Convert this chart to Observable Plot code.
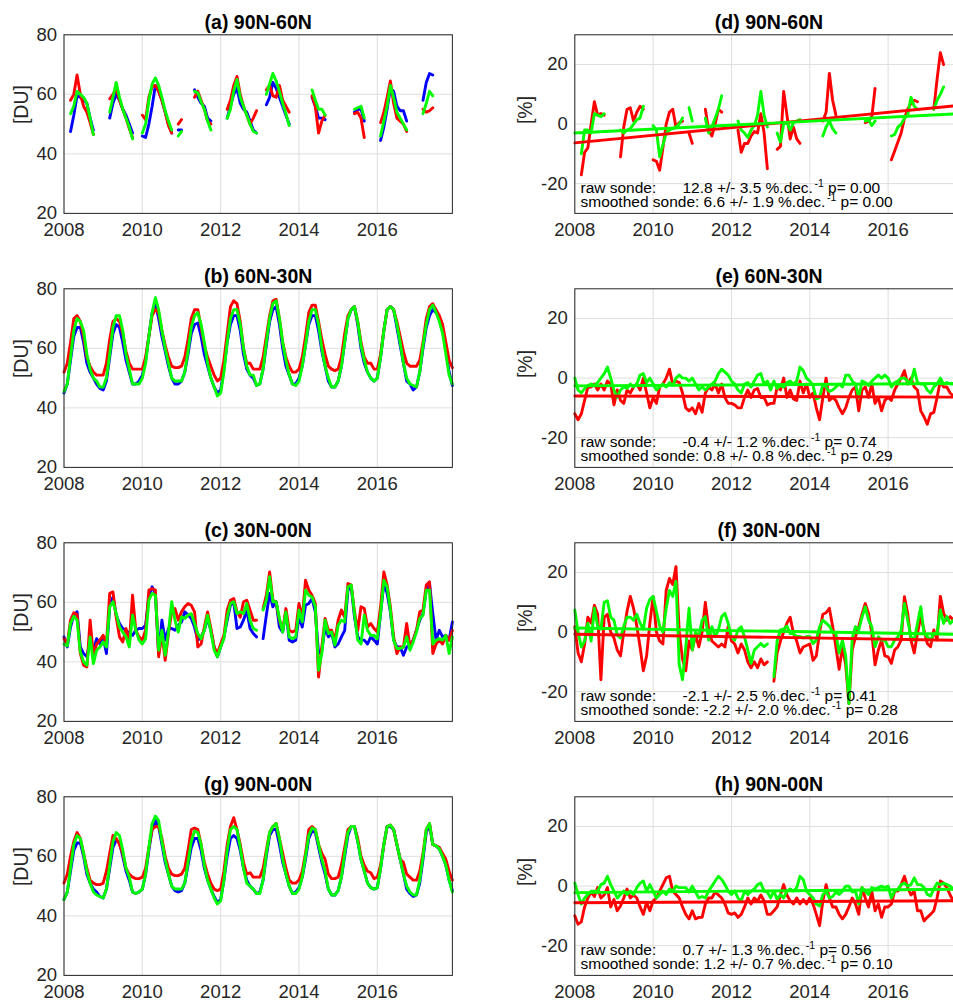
<!DOCTYPE html>
<html>
<head>
<meta charset="utf-8">
<script src="https://cdn.jsdelivr.net/npm/d3@7"></script>
<script src="https://cdn.jsdelivr.net/npm/@observablehq/plot@0.6"></script>
<style>
  body { margin: 0; background: #fff; }
  #fig { position: relative; width: 953px; height: 1001px; overflow: hidden; background: #fff; }
  #fig svg { position: absolute; }
</style>
</head>
<body>
<div id="fig"></div>
<script>
// Monthly ozone columns (DU) and relative differences (%), Jan 2008 – Dec 2017.
const _ = NaN; // month without data

const xTicks = [2008, 2010, 2012, 2014, 2016];
const duTicks = [20, 40, 60, 80];
const pctTicks = [-20, 0, 20];

// ---- (a) 90N-60N ----
const aBlue = [
  _, _, 47.5, 53, 59.5, 59, 58, 57, 52, 48, _, _,
  _, _, 52, 57, 60, 58, 55, 53, 50, 47, _, _,
  46, 45.5, 50, 56, 63, 61, 58, 54, 50, 47, _, 48,
  48, _, _, _, 61.5, 59, 57, 56, 52, 51, _, _,
  _, _, 52, 56, 60, 62, 57, 55, 54, 51, 48, 47,
  _, _, 56.5, 59, 64, 62, 59, 56, 53, 50, _, _,
  _, _, _, _, 59, 56, 52, 52, 51.5, _, _, _,
  _, _, _, _, _, 54, 55, 55, 51, _, _, _,
  _, 44.5, 49, 55, 62, 61, 56, 54.5, 54.5, 51, _, _,
  _, _, 58, 64, 67, 66.5, _, _, _, _, _, _];
const aRed = [
  _, _, 58, 60, 66.5, 60, 56, 54, 50.5, 46.5, _, _,
  _, _, 58.5, 60, 62, 58, 55, 52, 48.5, 45.5, _, _,
  53, 51.5, 59, 62.5, 63, 61, 58, 54, 49.5, 47, _, 50,
  51.5, _, _, _, 59, 61, 58, 55, 51, 50, _, _,
  _, _, 55, 58, 63, 66, 60, 56, 53, 50, 52, 54.5,
  _, _, 61.5, 63, 59.5, 59, 63, 58, 56, 54, _, _,
  _, _, _, _, 59.5, 56, 47, 51, 53, _, _, _,
  _, _, _, _, _, 53.5, 54, 52, 45.5, _, _, _,
  _, 50.5, 54, 59, 64.5, 57, 52, 51, 50, 47.5, _, _,
  _, _, 55, 54, 54.5, 55.5, _, _, _, _, _, _];
const aGreen = [
  _, _, 53.5, 56, 61, 60, 59, 57, 52, 46.5, _, _,
  _, _, 54, 59, 64, 59, 55, 52, 49, 45, _, _,
  47, 50, 58, 63.5, 65.5, 63, 59, 54.5, 51, 48, _, 46,
  47.5, _, _, _, 61, 60.5, 57.5, 55, 51, 48, _, _,
  _, _, 52, 55, 61, 65, 59, 56, 53, 50, 47.5, 47,
  _, _, 60, 63.5, 67, 64.5, 61, 57, 53.5, 49.5, _, _,
  _, _, _, _, 61.5, 58, 55, 55, 53, _, _, _,
  _, _, _, _, _, 55, 55.5, 56, 52, _, _, _,
  _, 46, 51, 56, 63, 59, 54, 52, 50, 48, _, _,
  _, _, 53.5, 57, 61, 59.5, _, _, _, _, _, _];

// ---- (b) 60N-30N ----
const bBlue = [
  45, 48, 56, 64, 67, 67, 62, 55, 52, 50, 48, 46.5,
  46, 49, 57, 65, 68, 67, 62, 56, 52, 48, 48, 49,
  51, 56, 64, 72, 75, 70, 64, 59, 54, 50, 48, 48,
  49, 52, 58, 65, 68, 68.5, 64, 58, 54, 50, 47, 45,
  46, 53, 62, 68, 71, 71, 66, 58, 53, 51, 50, 47.5,
  48, 53, 61, 69, 73, 74, 68, 60, 54, 51, 48, 48,
  50, 54, 61, 68, 71, 71, 66, 59, 54, 49, 47, 47,
  49, 54, 62, 70, 73, 74, 68, 60, 55, 52, 50, 49,
  50, 57, 66, 73, 74, 73, 67, 61, 55, 49, 48, 46,
  47, 52, 60, 67, 71, 73, 72, 70, 66, 60, 52, 47.5];
const bRed = [
  52, 55, 62, 70, 71, 69, 64, 57, 54, 52, 51, 51,
  51, 55, 63, 69, 70, 69, 65, 59, 55, 53, 53, 53,
  53, 57, 64, 71, 73, 72, 66, 61, 57, 54, 53.5, 53.5,
  54, 57, 63, 70, 73, 73, 67, 61, 57, 54, 51, 49,
  50, 56, 65, 74, 76, 75, 69, 60, 55, 55, 53, 53,
  53, 57, 64, 71, 76, 76.5, 70, 62, 57, 54, 52, 52,
  53, 57, 64, 72, 74.5, 74.5, 69, 63, 58, 54, 53, 52.5,
  53, 57, 65, 71, 73, 74, 69, 62, 57, 55, 55, 53,
  53, 58, 66, 73, 74, 73, 69, 64, 59, 55, 54, 54,
  54, 56, 62, 70, 74, 75, 73, 71, 68, 62, 56, 53.5];
const bGreen = [
  45.5, 48, 57, 66, 70, 69, 66, 58, 53, 50, 49, 47,
  47, 50, 58, 67, 71, 71, 66, 58, 53, 48, 48, 48,
  50, 55, 64, 72, 77, 73, 66, 60, 55, 50, 49, 49,
  49, 52, 59, 67, 71, 72, 68, 62, 55, 50, 47, 44,
  45, 52, 62, 70, 73, 73, 68, 60, 54, 51, 51, 47.5,
  48, 53, 62, 70, 75, 76, 70, 62, 56, 51, 48, 47.5,
  49, 54, 61, 69, 73, 73, 68, 60, 54, 50, 47, 47,
  49, 54, 62, 70, 73, 74, 69, 61, 56, 52, 50, 49,
  50, 57, 66, 73, 74, 73, 68, 62, 55, 50, 48, 47.5,
  47, 52, 61, 68, 73, 74.5, 72, 69, 65, 58, 51, 48];

// ---- (c) 30N-00N ----
const cBlue = [
  48.4, 45, 51.7, 55.7, 56.8, 45, 42.8, 41.7, 47.3, 43.9, 47.8, 46,
  48.4, 42.8, 58.5, 61.8, 55.7, 52.9, 51.2, 50.6, 49.5, 48.9, 50.6, 51.2,
  51.2, 52.3, 61.8, 65.2, 63, 42.8, 54, 47.3, 51.2, 51.2, 50.6, 52.3,
  53.4, 56.8, 55.7, 54.6, 51.7, 47.3, 48.4, 50.6, 54.6, 50.6, 45, 41.7,
  45, 48.4, 54, 59, 60.2, 51.2, 51.7, 54, 57.4, 51.2, 49.5, 48.4,
  _, 47.8, 55.7, 63, 58.5, 60.2, 51.7, 50, 56.8, 47.3, 46.7, 47.3,
  55.1, 51.7, 59, 59.6, 61.3, 56.8, 42.8, 43.9, 51.7, 48.4, 49.5, 45,
  46, 48.4, 50.6, 64.1, 65.2, 55.1, 48.4, 47.3, 47.3, 46, 48.4, 47.3,
  46, 56.2, 66.3, 63, 56.8, 47.3, 45, 45, 42.2, 45, 46, 47.3,
  50.6, 54, 56.2, 64.1, 66.3, 56.2, 47.3, 50.6, 48.4, 48.9, 47.3, 53.4];
const cRed = [
  47.8, 46, 54, 56.5, 56, 42.8, 38.9, 38.3, 54, 42.2, 46, 47.3,
  48.9, 46, 63, 63.5, 55, 48.4, 46.7, 51.2, 46, 62.4, 50.6, 48.4,
  47.3, 50.6, 64.1, 64.6, 64.1, 41.7, 49.5, 40.5, 49.5, 56.8, 57.9, 54,
  56.8, 58.5, 59.6, 59, 56.8, 45, 46, 51.7, 56.8, 51.2, 45, 42.8,
  46, 48.9, 57.4, 60.7, 61.3, 56.8, 55, 60.2, 60.7, 57.4, 54, 54,
  _, 57.9, 62.4, 70.2, 60.7, 60.2, 54, 50.6, 57.9, 50.6, 50, 50.6,
  59.6, 54.6, 67.4, 64.1, 62.4, 59.6, 34.9, 45, 54.6, 50.6, 50.6, 47.3,
  54, 57.4, 55, 66.3, 65.8, 56.8, 50.6, 58.5, 57.9, 51.7, 52.9, 51.2,
  50, 58.5, 70.2, 65.8, 58.5, 48.4, 42.8, 45, 45, 52.9, 45, 47.3,
  50.6, 56.8, 57.4, 65.8, 66.9, 42.8, 46, 47.3, 46, 48.9, 47.3, 50.6];
const cGreen = [
  46, 45.3, 52.9, 55.3, 54, 43.3, 40, 38.9, 48.4, 39.4, 43.9, 45,
  46.7, 45, 58.5, 60.2, 56.2, 51.7, 50, 48.4, 45, 55.7, 50.6, 47.3,
  46, 47.8, 60.7, 63, 62.4, 43.9, 50.6, 42.2, 50, 60.2, 54, 50,
  55.1, 54.6, 55.7, 56.2, 52.9, 49.5, 47.8, 50.6, 55.7, 50, 43.9, 41.7,
  45, 47.8, 55.1, 59.6, 60.2, 56.2, 56.8, 56.2, 59.6, 54, 51.2, 50.6,
  _, 57.4, 60.7, 68.6, 60.2, 60.2, 54.6, 50, 56.8, 48.4, 47.8, 48.4,
  57.4, 53.4, 64.1, 62.4, 61.8, 58.5, 37.2, 42.8, 54, 49.5, 50, 45.6,
  52.3, 54, 53.4, 65.2, 65.8, 56.2, 47.3, 46, 55.7, 50.6, 48.9, 48.9,
  47.8, 56.2, 67.4, 65.2, 57.4, 47.3, 44.5, 44.5, 45, 48.4, 43.9, 46.7,
  50, 54.6, 55.7, 64.1, 64.1, 46, 47.3, 47.8, 47.3, 48.9, 42.8, 48.4];

// ---- (g) 90N-00N ----
const gBlue = [
  45.5, 48, 55, 62, 64.5, 64.5, 60, 54, 51, 49, 48, 46.5,
  46, 49, 56, 63, 65.5, 64.5, 60, 55, 52, 48, 47.5, 48,
  49, 54, 62, 69, 72, 70, 64, 58, 54, 50, 48.5, 48,
  48.5, 51, 57, 63, 66, 66, 62, 56, 52, 49, 46.5, 44.5,
  45.5, 52, 60, 66, 67, 66, 62, 56, 52, 50, 49, 47.5,
  48, 52, 60, 67, 69, 69, 64, 58, 54, 50, 47.5, 48,
  49.5, 53, 59, 66, 68.5, 68, 63, 58, 54, 49, 47, 47,
  48.5, 53, 60, 67, 70, 70, 65, 59, 55, 51, 49.5, 49,
  49.5, 56, 64, 70, 70, 69, 64, 59, 54, 49, 47.5, 46.5,
  47, 51, 59, 68, 70.5, 64, 63.5, 62.5, 60, 57, 52, 48.5];
const gRed = [
  51, 54, 60, 65, 68, 66, 61, 56, 52, 51, 50.5, 50.5,
  51, 55, 61, 67, 66, 64, 61, 56, 54, 53, 52.5, 52.5,
  53, 56, 63, 69, 70, 70, 66, 60, 56, 54, 53.5, 53.5,
  54, 56, 62, 69, 69.5, 69, 64, 58, 54, 51, 49, 48.5,
  49, 55, 64, 70, 73, 69, 64, 58, 54, 54.5, 53, 53,
  53, 56, 62, 68, 70, 71, 66, 61, 56, 52, 51, 51,
  52, 55, 61, 69, 70, 69, 64, 61, 59, 54, 52.5, 52.5,
  53, 57, 63, 69, 70, 70, 66, 60, 57, 55, 54.5, 52.5,
  53, 57, 64, 70, 70.5, 69, 64, 59, 58, 54, 53, 52,
  52, 55, 61, 69, 71, 64, 63.5, 63, 61, 59, 55, 52];
const gGreen = [
  45.5, 48, 56, 64, 67, 66, 61, 55, 51, 48, 47, 46.5,
  46, 49, 57, 65, 68, 67, 62, 56, 53, 48, 47.5, 48,
  49, 54, 63, 71, 73.5, 72, 65, 59, 54, 50, 49, 49,
  49, 51, 58, 65, 68.5, 68, 64, 57, 52, 49, 46, 44,
  45, 52, 62, 69, 70, 69, 63, 56, 51, 50, 49, 47.5,
  47.5, 52, 61, 68, 70, 71, 66, 59, 54, 50, 47.5, 47.5,
  49, 53, 60, 67, 69.5, 69, 64, 59, 55, 49, 47, 47,
  48.5, 53, 61, 68, 70, 70, 65, 59, 55, 51, 49.5, 49,
  49.5, 56, 64, 70, 70.5, 69, 64, 59, 54, 50, 48, 47,
  47, 52, 60, 69, 71, 64, 63.5, 62.5, 60, 57, 52, 48];

// ---- (d) 90N-60N, relative difference ----
const dRaw = [
  _, _, -17, -9.5, -8, 0, 7.5, 3, 3.5, 3, _, _,
  _, _, -11, -1, 5, 5.5, 1, 4, 6, 5, _, _,
  -12, -12.5, -15.5, -8, 0, 4, 5, -1, 0.5, 1, _, -3,
  -6.5, _, _, _, 5, -2, -4, 0, 5, 4, _, _,
  _, _, -2, -9.5, -6.5, -6.5, -4, -2.5, -3, 3.5, -3, -15,
  _, _, -8.5, -7.5, 11, 3, -5, -1, -5, -6.5, _, _,
  _, _, _, _, 1, 4, 17, 8, 3, _, _, _,
  _, _, _, _, _, 0.5, 1, 2.5, 12, _, _, _,
  _, -12, -9, -6, -3, 2, 5, 7, 8, 7.5, _, _,
  _, _, 5, 15, 24, 20, _, _, _, _, _, _];
const dSmooth = [
  _, _, -10, -2, -2, -3, 3.5, 3, 2.5, 3.5, _, _,
  _, _, -2, -3, -2, -1.5, 0, 1.5, 2, 6, _, _,
  -0.5, -2, -11, -7, -3, -2, -1.5, -1, 0, 2, _, 5.5,
  1, _, _, _, 2, -3, -1, 2, 5, 9.5, _, _,
  _, _, 1, -2, -3, -4.5, -2, -0.5, 3, 11, 3, -1,
  _, _, -3, -6, 0, 0.5, -2, 0.5, 1, 1.5, _, _,
  _, _, _, _, -4, -1, 1, -1.5, -3, _, _, _,
  _, _, _, _, _, 1, 1.5, -0.5, 1, _, _, _,
  _, -4, -3.5, -1, 0, 2, 3, 9, 6, 5, _, _,
  _, _, 5, 8, 10, 12.5, _, _, _, _, _, _];

// ---- (e) 60N-30N ----
const eRaw = [
  -12, -14, -12, -7.5, -3, -3, -2, -4, -2, -4, -1, -2,
  -9, -4, -7.5, -8.5, -4, -5, -3, -2, -4, 0, -5, -10,
  -6.5, -8.5, -3, -2, 0, 3, -2, -1, -1.5, -5, -10, -11,
  -10, -12, -8.5, -11.5, -5, -3, -4, -2, -5, -2, -6.5, -8.5,
  -8.5, -9, -10, -10, -6.5, -4, -6.5, -4, -3.5, -6.5, -6.5, -9,
  -8.5, -8.5, -3, -4, 0, -6.5, -4, -7, -7.5, -1, -5, -2,
  -6.5, -5, -10, -14, -6.5, 0, -7.5, -6.5, -7.5, -10, -12, -10,
  -6.5, -4, -3, -11, -4, -3, -6.5, -2, -8.5, -6.5, -11, -7.5,
  -6.5, -7.5, -4, -2, 0, 2.5, -2, 0, -3, -4, -11, -13,
  -15.5, -12, -11.5, -6.5, -1, -3, -3, -5, -6, -7, -6, -6];
const eSmooth = [
  0, -4, -5, -3.5, -2.5, -2, -2.5, -1.5, 0, 1.5, 3.7, 0,
  -4, -6.5, -4, -3, -3.5, -2, -3, -2, 1, 1.5, -1.5, 0,
  -2, -4, -3, -2, -3, -1.5, -2.5, 0, 1, 0, 0, -1,
  0, -2, -4, -3, -4, -3, -2, -1, 1.5, 3, 2, 1,
  -1, -2, -4, -5, -2, -1.5, -3, -1, 1, 1.5, -2, -1,
  -4, -1, -3.5, -2.5, -3, -1.5, -1, -2, -1, 3.7, 2.5, 0,
  -1, -2.5, -7, -6.5, -2, -3, -4.5, -4, -3, -2, -3, 1,
  1, -1, -2, -6.5, -1, -1.5, -2.5, -1, 0, 1, 0, 1,
  0, -3, -1.5, -1, 0, 0, -1, -1.5, 3, -1.5, -2, -2,
  -4, -5, -3, -2, 0, -2, -1.5, -2, -2, -2, -2, -2];

// ---- (f) 30N-00N ----
const fRaw = [
  1.8, -7, -10, -4, 5, 3, 9, 6, -16, 5, 6, 0,
  -2, -6, -8, 0, 7, 12, 8, 2, -5, -13, -8, 3,
  12, 0, -3, -4, 14, 18, 16, 22, 0, -9, -13, -3,
  -6, -1, -5, 0, 10, 1, -3, -4, -5, -4, -5, 2,
  -3, -4, -7, -4, -6, -10, -12, -10, -12, -9, -11, -10,
  _, -16.5, -7, -3, 0, 3, 5, -0.5, -3, -7, -5, -4.5,
  -4, -9.5, -8, 0, 6, 6.5, 8, 2, -5, -12.5, -5, -11,
  -24, -6, -1.6, 1.8, 6, 9.6, 6.3, -0.4, -11, -6, -2.7, -8,
  -8.3, -10.5, -6, -4.9, -2.7, 11.9, 6.3, -2.7, -7, -0.4, 5.2, 0.7,
  -3.8, -4.9, 0.7, -2.7, 12, 6.3, 4, 5.2, 4, 3, 2, 2];
const fSmooth = [
  7.4, 0, -5, -3, 3, -3, 8, 2, 1, 10, 10.5, 5,
  4, -1, -2, 2, 5, 5, 4, 6, 3, 1, 8, 11,
  12, 7, 2, 0, 8, 14, 12, 17, -11, -16, -5, 8,
  -6, 0, -1.6, 4, 5.2, -2.7, 1.8, -1.6, 0.7, 5.2, 6.3, 2.9,
  -1.6, -2.7, 0.7, 1.8, -1.6, -6, -10.5, -6, -4.9, -3.8, -4.9, -4,
  _, -15, -3, 0.7, 1, 2, -0.5, -0.5, -1.5, -1.5, -2, -1.5,
  -1.5, -3.8, -2.7, 1.8, 4, 3, 2, 0, -0.5, -7, -2.7, -8,
  -24, -2, 1.8, 0.7, 5, 8.5, 4, 1.8, -4.9, -1.6, -2.7, -2.7,
  -4.9, -4.9, -2.7, -1.6, 0.7, 9.6, 4, -1.6, -2.7, 2.9, 8.5, -0.4,
  -1.6, -2.7, -0.4, -0.4, 7.4, 2.9, 5.2, 2.9, 4, 3, 3, 3];

// ---- (h) 90N-00N ----
const hRaw = [
  -10, -12.8, -12, -7, -4, -2, -3.5, -0.5, -4, -3, -0.5, -7,
  -4.5, -8.3, -6.7, -4, -1, -4, -3, -4, -7, -9.5, -5.5, -8.3,
  -5, -4, -1.7, 0.5, 2.8, 3.3, -1.7, -2.8, -4, -7, -9.5, -11,
  -8.3, -11, -10.5, -10.5, -6, -4, -4, -2, -3, -4, -6, -9,
  -9.5, -9, -10.5, -9.5, -7, -4, -6, -4, -5, -3, -5, -9.5,
  -9.5, -8.3, -7, -3, 0.5, -3, -5, -6, -4, -6, -4.5, -6,
  -4, -6, -9.5, -13.3, -5, 0.5, -4, -7, -7, -9.5, -11, -9.5,
  -7, -4, -6, -9.5, -0.5, -4, -7, -1.7, -8.3, -6, -10.5, -7,
  -7, -6, -1.7, -1.7, 0.5, 3.3, -0.5, -3, -1.7, -8.3, -8.3, -11.7,
  -10.5, -9.5, -8.3, -4, 1.7, 1, -0.5, -3, -5, -6, -6, -5];
const hSmooth = [
  1, -2.8, -6, -4, -2.8, -1.7, -1.7, -1.7, 0.5, 1, 3.3, 0.5,
  -1.7, -4, -2.8, -1.7, -2.8, -1.7, -2.8, -0.5, 1, 1.7, -1.7, 0.5,
  -1.7, -4, -2.8, -1.7, -2.8, -1, -1.7, 0, -0.5, -0.5, -0.5, -2,
  0, -2, -4, -3.5, -4, -1.7, 0, 1.7, 3.3, 2.2, 0.5, -1.7,
  -2.8, -1.7, -4, -5, -1.7, -2.8, -1.7, -1, 0.5, 1, -1.7, -2,
  -4, -1.7, -4.5, -2.8, -4, -1.7, -1, -1.7, -0.5, 3.3, 2.2, -1.7,
  -2.8, -4, -6, -6.7, -2.8, -1.7, -4, -3.5, -2, -2.8, -1.7, 0,
  0, -2, -1.7, -6, -0.5, -1.7, -2.8, -0.5, -1, -0.5, 0, -0.5,
  0, -4, -1.7, -1, 0.5, 1, 0, 0.5, 2.8, 0.5, 0.5, -0.5,
  -2.8, -3.3, -1, 1, 0.5, 1, 0.5, 0, -1, -1, -1, -1];

// Linear trends: [raw, smoothed] value at Jan 2008 (%), slope (%/decade), 1-sigma, p-value
const dTrendStart = [-6.3, -3.0], dTrendSlope = [12.8, 6.6], dTrendErr = [3.5, 1.9], dTrendP = [0.00, 0.00];
const eTrendStart = [-6.0, -2.6], eTrendSlope = [-0.4, 0.8], eTrendErr = [1.2, 0.8], eTrendP = [0.74, 0.29];
const fTrendStart = [-0.7, 1.4], fTrendSlope = [-2.1, -2.2], fTrendErr = [2.5, 2.0], fTrendP = [0.41, 0.28];
const hTrendStart = [-5.6, -2.2], hTrendSlope = [0.7, 1.2], hTrendErr = [1.3, 0.7], hTrendP = [0.56, 0.10];

// ---------------------------------------------------------------
const months = d3.range(120).map(i => 2008 + i / 12);
const xDomain = [months[0], months[119]];

const FONT = '"Liberation Sans", Arial, Helvetica, sans-serif';
const INK = "#262626";
const GRID = "#dedede";
const BLUE = "#0000ff", RED = "#ff0000", GREEN = "#00ff00";

const FRAME_W = 388.4, FRAME_H = 178.6, M_TOP = 34.3, SVG_H = 254;
const rowTops = [0, 254, 508.4, 761.7];
const NOTE_SIZE = 15.5;

const fig = document.getElementById("fig");

function series(values, color) {
  return Plot.line(values, {
    x: (d, i) => months[i], y: d => d,
    stroke: color, strokeWidth: 2.9, strokeLinejoin: "round", strokeLinecap: "round"
  });
}

function trendLine(start, slope, color) {
  const pts = xDomain.map(x => ({x, y: start + slope * (x - 2008) / 10}));
  return Plot.line(pts, {x: "x", y: "y", stroke: color, strokeWidth: 2.9});
}

function fmt1(v) { return v.toFixed(1); }

function trendNotes(slope, err, p) {
  const raw = `${fmt1(slope[0])} +/- ${fmt1(err[0])} %.dec.^{-1} p= ${p[0].toFixed(2)}`;
  const smooth = `smoothed sonde: ${fmt1(slope[1])} +/- ${fmt1(err[1])} %.dec.^{-1} p= ${p[1].toFixed(2)}`;
  const common = {frameAnchor: "bottom-left", lineAnchor: "bottom", textAnchor: "start", fontSize: NOTE_SIZE, fill: "#000"};
  return [
    Plot.text(["raw sonde:"], {...common, dx: 5.7, dy: -20.6}),
    Plot.text([raw], {...common, dx: 107.7, dy: -20.6}),
    Plot.text([smooth], {...common, dx: 5.7, dy: -6.6})
  ];
}

// Turn the "^{-1}" marker into a raised, smaller "-1".
function raiseExponents(svg) {
  const ns = "http://www.w3.org/2000/svg";
  svg.querySelectorAll("text").forEach(el => {
    const s = el.textContent;
    if (!s.includes("^{-1}")) return;
    const [a, b] = s.split("^{-1}");
    el.textContent = "";
    const t1 = document.createElementNS(ns, "tspan");
    t1.textContent = a;
    const t2 = document.createElementNS(ns, "tspan");
    t2.textContent = "-1";
    t2.setAttribute("dx", "1.5");
    t2.setAttribute("dy", "-5.5");
    t2.setAttribute("font-size", "10.5");
    const t3 = document.createElementNS(ns, "tspan");
    t3.textContent = b;
    t3.setAttribute("dy", "5.5");
    el.append(t1, t2, t3);
  });
}

function panel({title, ylabel, yDomain, yTicks, marks, left, top, marginLeft, width, labelDx}) {
  const svg = Plot.plot({
    width, height: SVG_H,
    marginLeft, marginRight: width - marginLeft - FRAME_W,
    marginTop: M_TOP, marginBottom: SVG_H - M_TOP - FRAME_H,
    style: {fontFamily: FONT, fontSize: "18.5px", color: INK, background: "transparent"},
    x: {domain: xDomain},
    y: {domain: yDomain},
    marks: [
      Plot.gridX(xTicks, {stroke: GRID, strokeOpacity: 1}),
      Plot.gridY(yTicks, {stroke: GRID, strokeOpacity: 1}),
      ...marks,
      Plot.frame({stroke: INK}),
      Plot.axisX(xTicks, {tickSize: 0, tickPadding: 9.4, tickFormat: d => String(d), label: null, fontSize: 18.5, color: INK}),
      Plot.axisY(yTicks, {tickSize: 0, tickPadding: 7, tickFormat: d => String(d), label: null, fontSize: 18.5, color: INK}),
      Plot.text([title], {frameAnchor: "top", lineAnchor: "bottom", dy: -5.5, fontSize: 19.5, fontWeight: "bold", fill: "#000"}),
      Plot.text([ylabel], {frameAnchor: "left", dx: labelDx, rotate: -90, fontSize: 19.5, fill: INK})
    ]
  });
  raiseExponents(svg);
  svg.style.left = left + "px";
  svg.style.top = top + "px";
  fig.appendChild(svg);
}

const leftPanels = [
  {title: "(a) 90N-60N", lines: [aBlue, aRed, aGreen]},
  {title: "(b) 60N-30N", lines: [bBlue, bRed, bGreen]},
  {title: "(c) 30N-00N", lines: [cBlue, cRed, cGreen]},
  {title: "(g) 90N-00N", lines: [gBlue, gRed, gGreen]}
];
const rightPanels = [
  {title: "(d) 90N-60N", raw: dRaw, smooth: dSmooth, start: dTrendStart, slope: dTrendSlope, err: dTrendErr, p: dTrendP},
  {title: "(e) 60N-30N", raw: eRaw, smooth: eSmooth, start: eTrendStart, slope: eTrendSlope, err: eTrendErr, p: eTrendP},
  {title: "(f) 30N-00N", raw: fRaw, smooth: fSmooth, start: fTrendStart, slope: fTrendSlope, err: fTrendErr, p: fTrendP},
  {title: "(h) 90N-00N", raw: hRaw, smooth: hSmooth, start: hTrendStart, slope: hTrendSlope, err: hTrendErr, p: hTrendP}
];

leftPanels.forEach((p, r) => {
  panel({
    title: p.title, ylabel: "[DU]", yDomain: [20, 80], yTicks: duTicks,
    marks: [series(p.lines[0], BLUE), series(p.lines[1], RED), series(p.lines[2], GREEN)],
    left: 0, top: rowTops[r], marginLeft: 63.5, width: 63.5 + FRAME_W + 18, labelDx: -41.8
  });
});

rightPanels.forEach((p, r) => {
  panel({
    title: p.title, ylabel: "[%]", yDomain: [-30, 30], yTicks: pctTicks,
    marks: [
      series(p.raw, RED), series(p.smooth, GREEN),
      trendLine(p.start[0], p.slope[0], RED), trendLine(p.start[1], p.slope[1], GREEN),
      ...trendNotes(p.slope, p.err, p.p)
    ],
    left: 480, top: rowTops[r], marginLeft: 94.3, width: 94.3 + FRAME_W + 18, labelDx: -49.3
  });
});
</script>
</body>
</html>
